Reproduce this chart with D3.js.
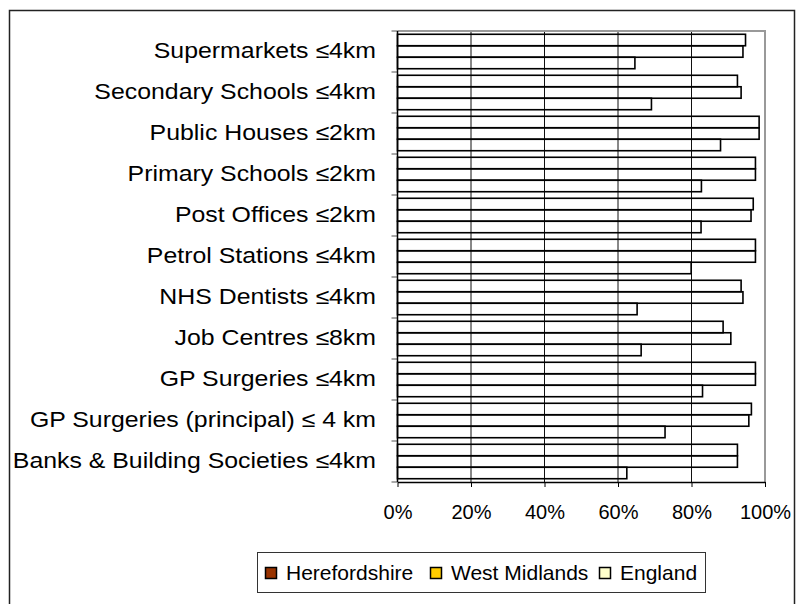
<!DOCTYPE html>
<html>
<head>
	<title>Access to services</title>
	<script src="https://d3js.org/d3.v7.min.js" charset="utf-8"></script>
	<style>
		body { margin: 0; background: white; }
		svg { display: block; font-family: "Liberation Sans", Arial, sans-serif; }
	</style>
</head>
<body>
	<script>
		// DATA (percent of households within distance)
		var categories = ["Supermarkets ≤4km", "Secondary Schools ≤4km", "Public Houses ≤2km",
			"Primary Schools ≤2km", "Post Offices ≤2km", "Petrol Stations ≤4km", "NHS Dentists ≤4km",
			"Job Centres ≤8km", "GP Surgeries ≤4km", "GP Surgeries (principal) ≤ 4 km",
			"Banks & Building Societies ≤4km"];
		var series = ["Herefordshire", "West Midlands", "England"];
		var herefordshire = [64.6, 69.1, 87.9, 82.7, 82.6, 79.9, 65.2, 66.3, 83.0, 72.8, 62.4];
		var westMidlands  = [94.0, 93.5, 98.4, 97.4, 96.2, 97.4, 94.0, 90.7, 97.4, 95.6, 92.5];
		var england       = [94.7, 92.5, 98.4, 97.4, 96.8, 97.4, 93.5, 88.6, 97.4, 96.3, 92.5];
		var swatchColors = ["#993300", "#ffcc00", "#ffffcc"];
		var xTicks = [0, 20, 40, 60, 80, 100];

		var values = { "Herefordshire": herefordshire, "West Midlands": westMidlands, "England": england };

		// SET UP SVG
		var width = 801,
			height = 604;
		var svg = d3.select("body").append("svg")
					.attr("width", width)
					.attr("height", height);

		// outer frame
		svg.append("rect")
			.attr("x", 9.5).attr("y", 10.5)
			.attr("width", 785).attr("height", 620)
			.attr("fill", "none").attr("stroke", "#222").attr("stroke-width", 1.5);

		var plot = { left: 397.5, right: 765, top: 31, bottom: 482 };

		var x = d3.scaleLinear().domain([0, 100]).range([plot.left, plot.right]);
		var y0 = d3.scaleBand().domain(categories)
					.range([plot.top, plot.bottom])
					.paddingInner(0.16).paddingOuter(0.08);
		// England on top of each group, Herefordshire at the bottom
		var y1 = d3.scaleBand().domain(series.slice().reverse())
					.range([0, y0.bandwidth()]);

		// grid lines
		svg.append("g").selectAll("line")
			.data(xTicks.slice(1, -1))
			.enter().append("line")
			.attr("x1", function(d){ return x(d); }).attr("x2", function(d){ return x(d); })
			.attr("y1", plot.top).attr("y2", plot.bottom)
			.attr("stroke", "#111").attr("stroke-width", 1);

		// plot border (top and right are grey)
		svg.append("path")
			.attr("d", "M" + plot.left + "," + plot.top + "H" + plot.right + "V" + plot.bottom)
			.attr("fill", "none").attr("stroke", "#999").attr("stroke-width", 2);

		// bars
		var groups = svg.append("g").selectAll("g")
			.data(categories)
			.enter().append("g")
			.attr("transform", function(d){ return "translate(0," + y0(d) + ")"; });

		groups.selectAll("rect")
			.data(function(d, i){ return series.map(function(s){ return { s: s, v: values[s][i] }; }); })
			.enter().append("rect")
			.attr("x", x(0))
			.attr("y", function(d){ return y1(d.s); })
			.attr("width", function(d){ return x(d.v) - x(0); })
			.attr("height", y1.bandwidth())
			.attr("fill", "none")
			.attr("stroke", "#000")
			.attr("stroke-width", 1.6);

		// x axis
		var xAxis = d3.axisBottom(x).tickValues(xTicks)
						.tickFormat(function(d){ return d + "%"; })
						.tickSize(5).tickSizeOuter(0).tickPadding(18);
		var gx = svg.append("g")
			.attr("transform", "translate(0," + plot.bottom + ")")
			.call(xAxis);
		gx.select(".domain").attr("stroke", "#000").attr("stroke-width", 1.5);
		gx.selectAll(".tick line").attr("stroke", "#000");
		gx.selectAll("text").attr("font-size", "20px").attr("fill", "#000")
			.attr("font-family", "Liberation Sans, Arial, sans-serif");

		// y axis: ticks at group boundaries, labels in the middle of each group
		var boundaries = d3.range(categories.length + 1).map(function(i){ return plot.top + i * y0.step(); });
		svg.append("g").selectAll("line")
			.data(boundaries)
			.enter().append("line")
			.attr("x1", plot.left - 6).attr("x2", plot.left)
			.attr("y1", function(d){ return d; }).attr("y2", function(d){ return d; })
			.attr("stroke", "#555").attr("stroke-width", 1);
		svg.append("line")
			.attr("x1", plot.left).attr("x2", plot.left)
			.attr("y1", plot.top).attr("y2", plot.bottom)
			.attr("stroke", "#000").attr("stroke-width", 1.5);

		// labels are a little wider than the font, so stretch them sideways
		svg.append("g").selectAll("text")
			.data(categories)
			.enter().append("text")
			.attr("transform", function(d){
				return "translate(376," + (y0(d) + y0.bandwidth() / 2 + 6) + ") scale(1.13,1)";
			})
			.attr("text-anchor", "end")
			.attr("font-size", "22px")
			.attr("fill", "#000")
			.text(function(d){ return d; });

		// LEGEND
		var legend = svg.append("g");
		legend.append("rect")
			.attr("x", 257.5).attr("y", 552.5)
			.attr("width", 448).attr("height", 40)
			.attr("fill", "white").attr("stroke", "#333").attr("stroke-width", 1);
		var legendX = [265, 430, 599];
		series.forEach(function(s, i){
			legend.append("rect")
				.attr("x", legendX[i] + 0.5).attr("y", 567.5)
				.attr("width", 11).attr("height", 11)
				.attr("fill", swatchColors[i]).attr("stroke", "#000").attr("stroke-width", 1.5);
			legend.append("text")
				.attr("x", legendX[i] + 21).attr("y", 580)
				.attr("font-size", "21px").attr("fill", "#000")
				.text(s);
		});
	</script>
</body>
</html>
